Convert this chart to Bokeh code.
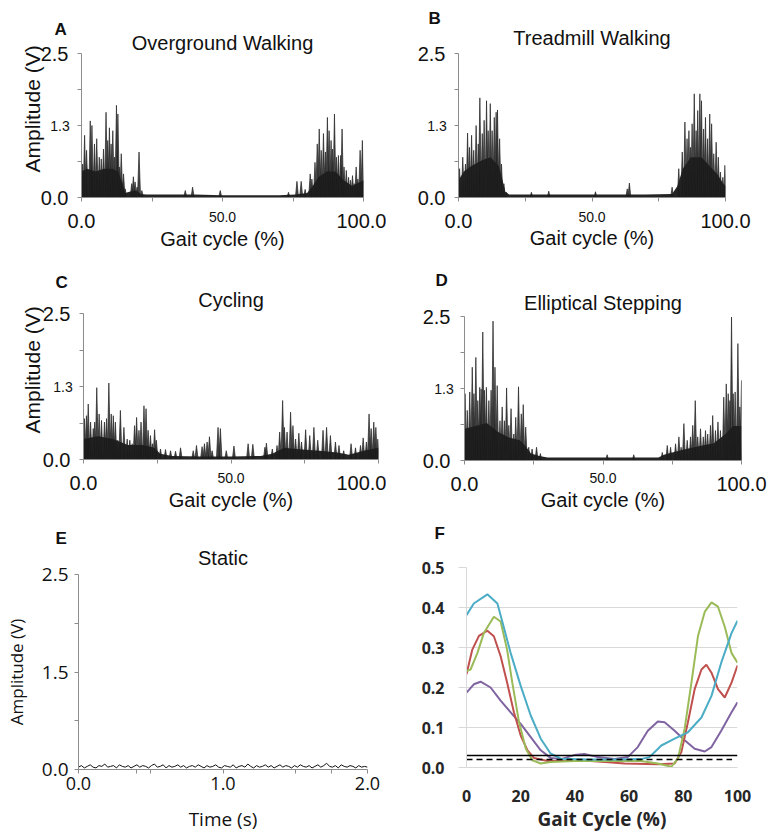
import numpy as np
from bokeh.plotting import figure
from bokeh.models import Range1d, FixedTicker, Title
from bokeh.layouts import column, row
from bokeh.embed import file_html
from bokeh.resources import INLINE

# ---------------- data ----------------
emg_x_ticks = [0, 25, 50, 75, 100]
emg_x_big = {0: "0.0", 25: "", 50: "", 75: "", 100: "100.0"}
emg_x_mid_label = "50.0"
emg_y_ticks = [0, 0.625, 1.25, 1.875, 2.5]
emg_y_big = {0: "0.0", 0.625: "", 1.25: "", 1.875: "", 2.5: "2.5"}
emg_y_mid_label = "1.3"

# A - Overground walking
A_spike_x = [0.4, 1.1, 1.8, 3.1, 3.7, 4.6, 5.4, 6.3, 7.0, 7.8, 8.7, 9.3, 9.9, 10.5, 11.1, 11.7, 12.4, 12.9, 13.4, 14.1,
             14.9, 15.5, 17.8, 18.4, 19.0, 19.7, 20.4, 21.4, 36.8, 39.4, 49.2, 73.4, 76.4, 77.9, 79.3, 81.1, 81.7, 82.8,
             83.6, 84.3, 85.0, 85.8, 86.5, 87.2, 87.8, 88.5, 89.0, 89.7, 90.4, 91.1, 91.9, 92.4, 93.1, 93.9, 94.7, 95.4,
             96.1, 96.7, 97.4, 98.0, 98.8, 99.6]
A_spike_y = [0.58, 1.08, 0.82, 1.33, 1.25, 0.93, 1.02, 0.70, 0.67, 0.84, 1.48, 0.99, 1.21, 0.93, 1.16, 0.70, 1.60, 1.45,
             0.53, 0.76, 0.41, 0.15, 0.24, 0.36, 0.27, 0.18, 0.79, 0.12, 0.12, 0.18, 0.12, 0.09, 0.28, 0.28, 0.14, 0.41,
             0.32, 0.61, 0.93, 1.19, 0.82, 1.11, 0.79, 1.39, 1.16, 0.99, 0.84, 1.45, 0.70, 0.73, 0.73, 1.19, 0.53, 0.47,
             0.35, 0.30, 0.38, 0.24, 0.53, 0.32, 0.82, 0.99]
A_band_x = [0, 2, 5, 8, 11, 13, 14.5, 15.5, 17, 19, 20, 21, 23, 30, 40, 50, 60, 70, 76, 80, 82, 84, 87, 90, 93, 96, 98, 100]
A_band_y = [0.45, 0.5, 0.45, 0.5, 0.5, 0.45, 0.25, 0.08, 0.1, 0.12, 0.1, 0.06, 0.05, 0.05, 0.05, 0.04, 0.04, 0.04, 0.05,
            0.08, 0.2, 0.35, 0.45, 0.45, 0.3, 0.2, 0.25, 0.3]

# B - Treadmill walking
B_spike_x = [0.4, 1.6, 2.6, 3.4, 4.1, 4.9, 5.7, 6.6, 7.4, 8.0, 8.9, 9.6, 10.5, 11.1, 11.9, 12.6, 13.4, 14.1, 14.6, 15.4,
             16.1, 17.0, 17.9, 27.3, 33.8, 51.3, 63.2, 64.0, 80.0, 82.5, 83.8, 84.8, 85.6, 86.3, 86.9, 87.5, 88.3, 89.0,
             89.6, 90.4, 91.0, 91.8, 92.5, 93.3, 94.1, 94.8, 95.6, 96.5, 97.3, 98.1, 99.0, 99.8]
B_spike_y = [0.50, 0.70, 0.58, 1.12, 0.87, 1.08, 0.82, 1.25, 0.93, 1.73, 1.11, 1.34, 1.68, 1.16, 1.63, 1.16, 1.39, 1.48,
             1.52, 1.02, 0.58, 0.24, 0.09, 0.09, 0.11, 0.10, 0.15, 0.25, 0.18, 0.50, 0.79, 1.31, 1.02, 1.16, 0.87, 1.28,
             1.80, 1.16, 1.51, 1.80, 1.68, 1.19, 1.39, 1.02, 1.45, 1.28, 0.76, 0.96, 0.70, 0.44, 0.35, 0.56]
B_band_x = [0, 2, 5, 9, 12, 15, 16.5, 17.5, 19, 30, 40, 50, 60, 70, 80, 82, 84, 87, 91, 94, 97, 99, 100]
B_band_y = [0.3, 0.45, 0.55, 0.65, 0.7, 0.55, 0.3, 0.1, 0.05, 0.05, 0.05, 0.05, 0.05, 0.05, 0.06, 0.2, 0.5, 0.7, 0.7,
            0.55, 0.4, 0.25, 0.2]

# C - Cycling
C_spike_x = [0.3, 1.0, 1.6, 2.4, 3.3, 3.8, 4.5, 5.3, 6.1, 7.1, 7.8, 8.6, 9.4, 10.1, 10.8, 11.6, 12.5, 13.7, 14.8, 15.7,
             16.5, 17.3, 18.0, 18.8, 19.5, 20.5, 21.2, 21.9, 22.7, 23.4, 24.1, 24.7, 26.1, 27.8, 29.5, 31.2, 32.9, 37.2,
             38.3, 40.2, 41.0, 41.9, 42.7, 43.6, 45.6, 46.4, 48.4, 51.0, 55.8, 57.4, 61.5, 62.0, 64.0, 65.6, 66.5, 67.5,
             68.1, 69.0, 70.2, 71.0, 71.9, 73.0, 73.9, 75.3, 76.7, 78.1, 79.4, 81.2, 82.4, 83.7, 85.4, 86.6, 88.2, 90.7,
             92.2, 93.9, 94.8, 95.9, 96.8, 97.5, 98.4, 99.1, 99.8]
C_spike_y = [0.70, 0.75, 0.95, 0.64, 0.53, 0.64, 1.23, 0.78, 0.67, 0.64, 0.70, 1.31, 0.78, 0.75, 0.64, 0.33, 0.84, 0.55,
             0.35, 0.33, 0.27, 0.58, 0.72, 0.50, 0.64, 0.92, 0.87, 0.50, 0.41, 0.27, 0.51, 0.33, 0.18, 0.17, 0.15, 0.14,
             0.20, 0.15, 0.24, 0.22, 0.27, 0.30, 0.39, 0.15, 0.55, 0.53, 0.15, 0.23, 0.27, 0.26, 0.21, 0.28, 0.18, 0.24,
             0.47, 1.01, 0.55, 0.47, 0.81, 0.58, 0.35, 0.45, 0.30, 0.51, 0.41, 0.55, 0.33, 0.50, 0.55, 0.41, 0.30, 0.24,
             0.15, 0.27, 0.20, 0.24, 0.37, 0.30, 0.78, 0.53, 0.64, 0.55, 0.35]
C_band_x = [0, 5, 10, 15, 20, 24, 26, 30, 40, 50, 60, 64, 68, 72, 80, 86, 90, 95, 100]
C_band_y = [0.35, 0.4, 0.35, 0.25, 0.25, 0.2, 0.1, 0.06, 0.05, 0.05, 0.06, 0.1, 0.2, 0.18, 0.15, 0.12, 0.08, 0.15, 0.2]

# D - Elliptical stepping
D_spike_x = [0.2, 1.0, 1.9, 2.8, 3.4, 4.1, 4.8, 5.5, 6.0, 6.6, 7.2, 7.9, 8.8, 9.6, 10.3, 11.0, 11.8, 12.8, 13.6, 14.4,
             15.2, 16.0, 16.8, 17.8, 18.5, 19.5, 20.5, 21.2, 22.1, 23.2, 24.4, 26.0, 27.4, 51.5, 61.1, 71.4, 73.2, 74.4,
             76.2, 77.4, 78.2, 79.2, 80.4, 81.6, 82.4, 83.3, 84.2, 85.2, 86.2, 87.0, 87.8, 88.8, 89.6, 90.6, 91.5, 92.4,
             93.6, 94.5, 95.2, 95.8, 96.4, 97.0, 97.7, 98.7, 99.4, 100.0]
D_spike_y = [1.16, 0.87, 1.19, 1.62, 1.16, 1.79, 1.04, 1.27, 1.24, 2.23, 1.22, 1.27, 1.04, 1.22, 2.42, 1.62, 1.30, 0.69,
             0.93, 0.69, 1.26, 0.61, 0.90, 0.46, 0.75, 1.28, 0.81, 0.97, 0.58, 0.23, 0.20, 0.23, 0.12, 0.10, 0.10, 0.14,
             0.26, 0.23, 0.29, 0.41, 0.23, 0.64, 0.35, 0.41, 0.61, 1.04, 0.41, 0.55, 0.41, 0.52, 0.46, 0.61, 0.78, 0.52,
             0.67, 0.52, 1.10, 1.33, 1.16, 1.04, 2.49, 1.16, 1.19, 2.03, 0.93, 1.39]
D_band_x = [0, 4, 8, 12, 16, 20, 22, 24, 27, 30, 40, 50, 60, 70, 72, 76, 80, 85, 90, 94, 97, 100]
D_band_y = [0.55, 0.6, 0.65, 0.5, 0.4, 0.35, 0.25, 0.12, 0.08, 0.05, 0.05, 0.05, 0.05, 0.05, 0.1, 0.15, 0.2, 0.25, 0.3,
            0.45, 0.6, 0.6]

# E - Static (2 s recording)
E_x_ticks = [0, 0.4, 0.5, 1.0, 1.5, 1.75, 2.0]
E_x_labels = {0: "0.0", 0.4: "", 0.5: "", 1: "1.0", 1.5: "", 1.75: "", 2: "2.0"}
E_y_labels = {0: "0.0", 0.625: "", 1.25: "1.5", 1.875: "", 2.5: "2.5"}
E_amp = [0.03, 0.05, 0.02, 0.04, 0.06, 0.03, 0.02, 0.05, 0.04, 0.07, 0.03, 0.04, 0.05, 0.02, 0.06, 0.04, 0.03, 0.05,
         0.02, 0.04, 0.06, 0.03, 0.05, 0.04, 0.02, 0.05, 0.07, 0.03, 0.04, 0.06, 0.02, 0.05, 0.03, 0.04, 0.06, 0.03,
         0.05, 0.02, 0.04, 0.05, 0.03, 0.06, 0.04, 0.02, 0.05, 0.03, 0.04, 0.06, 0.03, 0.02, 0.05, 0.04, 0.03, 0.06,
         0.02, 0.04, 0.05, 0.03, 0.07, 0.04, 0.02, 0.05, 0.03, 0.04, 0.06, 0.03, 0.05, 0.02, 0.04, 0.06, 0.03, 0.05,
         0.04, 0.02, 0.05, 0.03, 0.06, 0.04, 0.03, 0.05, 0.02, 0.04, 0.06, 0.03, 0.05, 0.08, 0.04, 0.03, 0.05, 0.02,
         0.06, 0.04, 0.03, 0.05, 0.04, 0.02, 0.05, 0.03, 0.04, 0.03]
E_time = np.linspace(0, 2, len(E_amp))

# F - mean envelopes
F_x_ticks = [0, 20, 40, 60, 80, 100]
F_y_ticks = [0, 0.1, 0.2, 0.3, 0.4, 0.5]
F_y_labels = ["0.0", "0.1", "0.2", "0.3", "0.4", "0.5"]
F_cyan_x = [0, 2.7, 7.7, 11.4, 13.2, 16.3, 20, 23.7, 27.4, 31, 34.8, 45, 55, 64.4, 67.5, 71.9, 76.8, 81.7, 86.7, 90.4, 94, 97.8, 100]
F_cyan_y = [0.381, 0.41, 0.433, 0.41, 0.365, 0.286, 0.204, 0.13, 0.072, 0.035, 0.022, 0.02, 0.02, 0.021, 0.026, 0.055,
            0.072, 0.088, 0.125, 0.179, 0.262, 0.336, 0.367]
F_green_x = [0, 1.5, 4, 6.4, 10.1, 12.6, 15, 16.9, 19.4, 21.9, 24.3, 27.4, 31, 39.8, 52, 64.4, 70.6, 75.6, 78, 80.5, 83,
             85.4, 87.9, 90.4, 92.8, 95.3, 97.8, 100]
F_green_y = [0.241, 0.245, 0.286, 0.336, 0.377, 0.365, 0.294, 0.212, 0.113, 0.047, 0.018, 0.01, 0.014, 0.0165, 0.016,
             0.016, 0.01, 0.002, 0.022, 0.097, 0.212, 0.328, 0.389, 0.413, 0.402, 0.352, 0.286, 0.262]
F_red_x = [0, 2.1, 4.6, 7.7, 10.1, 12.6, 15, 17.5, 20, 22.5, 24.9, 29.9, 45.9, 58.3, 70.6, 76.8, 79.3, 81.7, 84.2, 86.7,
           88.5, 90.4, 92.8, 95.3, 97.8, 100]
F_red_y = [0.233, 0.294, 0.329, 0.342, 0.328, 0.278, 0.212, 0.138, 0.08, 0.043, 0.024, 0.0165, 0.0165, 0.01, 0.008, 0.01,
           0.039, 0.113, 0.196, 0.245, 0.257, 0.237, 0.196, 0.175, 0.212, 0.255]
F_purple_x = [0, 2.7, 5.2, 8.9, 12.6, 16.3, 20, 23.7, 27.4, 31, 34.8, 39.8, 43.5, 48.4, 54.6, 59.5, 63.2, 66.9, 70.6,
              73.1, 76.8, 80.5, 84.2, 87.9, 90.4, 94, 97.8, 100]
F_purple_y = [0.187, 0.208, 0.2145, 0.2, 0.167, 0.138, 0.109, 0.076, 0.043, 0.024, 0.021, 0.031, 0.034, 0.026, 0.021,
              0.026, 0.051, 0.092, 0.115, 0.113, 0.092, 0.068, 0.047, 0.040, 0.051, 0.092, 0.138, 0.163]
F_solid_level = 0.03
F_dash_level = 0.02

ARIAL = "Liberation Sans"
OPEN = "Open Sans"
AXIS_GRAY = "#8c8c8c"
TXT = "#111111"


def base_fig(w, h, left, top, fw, fh, xr, yr):
    p = figure(width=w, height=h, x_range=Range1d(*xr), y_range=Range1d(*yr),
               output_backend="svg", toolbar_location=None,
               min_border_left=left, min_border_top=top,
               min_border_right=w - left - fw, min_border_bottom=h - top - fh)
    p.title_location = None
    try:
        p.frame_align = False
    except Exception:
        pass
    p.outline_line_color = None
    p.grid.grid_line_color = None
    p.background_fill_color = "white"
    p.border_fill_color = "white"
    return p


def style_axis(ax, ticks, overrides, font, size, standoff, color=AXIS_GRAY, tick_out=4, label_color=TXT,
               style="normal"):
    ax.ticker = FixedTicker(ticks=ticks)
    ax.major_label_overrides = overrides
    ax.major_label_text_font = font
    ax.major_label_text_font_size = size
    ax.major_label_text_font_style = style
    ax.major_label_text_color = label_color
    ax.major_label_standoff = standoff
    ax.axis_line_color = color
    ax.major_tick_line_color = color
    ax.major_tick_in = 0
    ax.major_tick_out = tick_out
    ax.minor_tick_line_color = None


def axis_label(ax, text, font, size, standoff, orientation="parallel", style="normal", color=TXT):
    ax.axis_label = text
    ax.axis_label_text_font = font
    ax.axis_label_text_font_size = size
    ax.axis_label_text_font_style = style
    ax.axis_label_text_color = color
    ax.axis_label_orientation = orientation
    try:
        ax.axis_label_standoff = standoff
    except Exception:
        ax.axis_label_standoff = 0


def add_title(p, text, place, align="center", size="20px", font=ARIAL, style="normal", standoff=0, offset=0,
              color=TXT):
    t = Title(text=text, align=align, text_font_size=size, text_font=font, text_font_style=style,
              vertical_align="middle", offset=offset, text_color=color)
    try:
        t.standoff = standoff
    except Exception:
        t.standoff = 0
    p.add_layout(t, place)


def emg_panel(lay, sx, sy, bx, by, letter, title, ylabel):
    p = base_fig(lay["w"], lay["h"], lay["left"], lay["top"], lay["fw"], lay["fh"], (0, 100), (0, 2.5))
    p.varea(x=bx, y1=0, y2=by, fill_color="#111111", fill_alpha=0.92)
    xs = [[x - 0.55, x, x + 0.55] for x in sx]
    ys = [[0, y, 0] for y in sy]
    p.patches(xs, ys, fill_color="#1a1a1a", fill_alpha=0.8, line_color="#222222", line_width=0.7)
    style_axis(p.xaxis, emg_x_ticks, emg_x_big, ARIAL, "20px", 12)
    style_axis(p.yaxis, emg_y_ticks, emg_y_big, ARIAL, "20px", lay["ystand"])
    axis_label(p.xaxis, emg_x_mid_label, ARIAL, "14px", lay["x_als"])
    axis_label(p.yaxis, emg_y_mid_label, ARIAL, "14px", lay["y_als"], orientation="horizontal")
    add_title(p, title, "above", size="20px", standoff=lay["t_s"])
    add_title(p, letter, "above", align="left", size="17px", style="bold", standoff=lay["l_s"],
              offset=lay["l_off"])
    add_title(p, "Gait cycle (%)", "below", size="20px", standoff=lay["b_s"])
    if ylabel:
        add_title(p, "Amplitude (V)", "left", align="left", size="21px", standoff=lay["yl_s"],
                  offset=lay["yl_off"])
    return p


layA = dict(w=386, h=258, left=81, top=53, fw=282, fh=144, ystand=9, x_als=-19, y_als=-32, t_s=-2, l_s=-17,
            l_off=-27, b_s=4, yl_s=5, yl_off=25)
layB = dict(w=386, h=258, left=72, top=53, fw=267, fh=144, ystand=9, x_als=-19, y_als=-32, t_s=7, l_s=-13,
            l_off=-30, b_s=2, yl_s=0, yl_off=0)
layC = dict(w=386, h=257, left=83, top=55, fw=295, fh=146, ystand=9, x_als=-20, y_als=-33, t_s=3, l_s=-13,
            l_off=-28, b_s=4, yl_s=11, yl_off=26)
layD = dict(w=386, h=257, left=78, top=58, fw=277, fh=144, ystand=10, x_als=-21, y_als=-34, t_s=3, l_s=-3,
            l_off=-29, b_s=5, yl_s=0, yl_off=0)

pA = emg_panel(layA, A_spike_x, A_spike_y, A_band_x, A_band_y, "A", "Overground Walking", True)
pB = emg_panel(layB, B_spike_x, B_spike_y, B_band_x, B_band_y, "B", "Treadmill Walking", False)
pC = emg_panel(layC, C_spike_x, C_spike_y, C_band_x, C_band_y, "C", "Cycling", True)
pD = emg_panel(layD, D_spike_x, D_spike_y, D_band_x, D_band_y, "D", "Elliptical Stepping", False)

# ---- E ----
pE = base_fig(386, 319, 78, 59, 289, 198, (0, 2), (0, 2.5))
pE.line(E_time, E_amp, line_color="#111111", line_width=1)
style_axis(pE.xaxis, E_x_ticks, E_x_labels, OPEN, "18px", 3)
style_axis(pE.yaxis, emg_y_ticks, E_y_labels, OPEN, "19px", 6)
axis_label(pE.xaxis, "Time (s)", OPEN, "19px", 13)
axis_label(pE.yaxis, "Amplitude (V)", OPEN, "17px", 11)
add_title(pE, "Static", "above", size="20px", standoff=9)
add_title(pE, "E", "above", align="left", size="17px", style="bold", standoff=-15, offset=-23)

# ---- F ----
pF = base_fig(386, 319, 80, 52, 271, 202, (0, 100), (0, 0.5))
pF.ygrid.grid_line_color = "#d9d9d9"
pF.ygrid.ticker = FixedTicker(ticks=F_y_ticks)
style_axis(pF.xaxis, F_x_ticks, {}, OPEN, "16px", 22, color="#d9d9d9", tick_out=0, label_color="#262626",
           style="bold")
style_axis(pF.yaxis, F_y_ticks, {t: l for t, l in zip(F_y_ticks, F_y_labels)}, OPEN, "16px", 14, color="#d9d9d9",
           tick_out=8, label_color="#262626", style="bold")
axis_label(pF.xaxis, "Gait Cycle (%)", OPEN, "19px", 1, style="bold", color="#262626")
pF.line(F_purple_x, F_purple_y, line_color="#8064A2", line_width=2)
pF.line(F_red_x, F_red_y, line_color="#C0504D", line_width=2)
pF.line(F_green_x, F_green_y, line_color="#9BBB59", line_width=2)
pF.line(F_cyan_x, F_cyan_y, line_color="#4BACC6", line_width=2)
pF.line([0, 100], [F_solid_level, F_solid_level], line_color="black", line_width=1.5)
pF.line([0, 98], [F_dash_level, F_dash_level], line_color="black", line_width=1.5, line_dash="6 4")
add_title(pF, " ", "above", size="10px", standoff=6)
add_title(pF, "F", "above", align="left", size="17px", style="bold", standoff=10, offset=-32)

layout = column(row(pA, pB, spacing=0), row(pC, pD, spacing=0), row(pE, pF, spacing=0), spacing=0)
open("out.html", "w").write(file_html(layout, INLINE))
